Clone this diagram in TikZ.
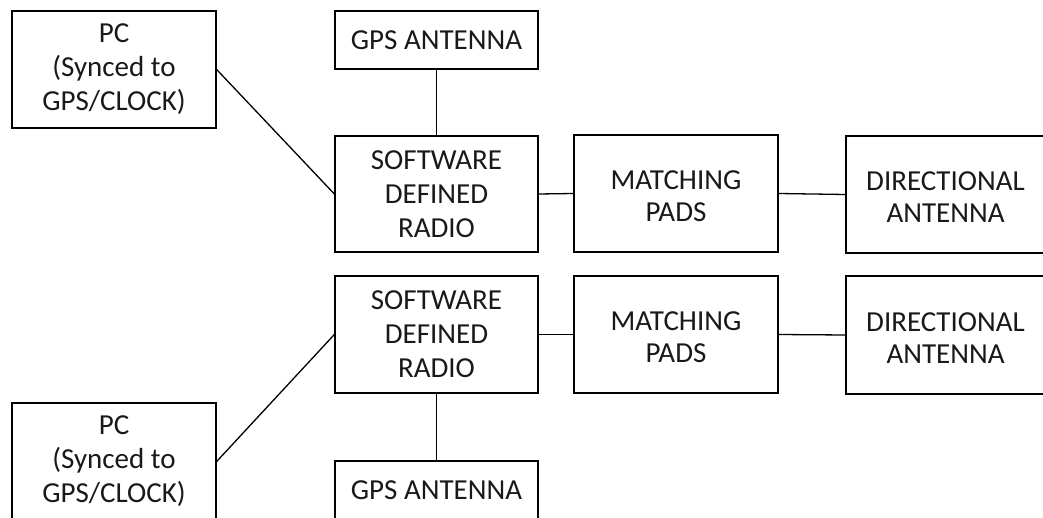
\documentclass[tikz,border=0pt]{standalone}
\usepackage{fontspec}
\setmainfont{Carlito}
\begin{document}
\begin{tikzpicture}[x=1pt,y=-1pt,
  blk/.style={draw=black, line width=1.3pt, inner sep=0pt, align=center,
    font=\fontsize{29}{34}\selectfont, text=black!90},
  txt/.style={inner sep=0pt, align=center, font=\fontsize{29}{32}\selectfont, text=black!90, yshift=-3pt},
  conn/.style={draw=black, line width=1.3pt}]
\useasboundingbox (0,0) rectangle (1043,518);
\clip (0,0) rectangle (1043,518);
% top row
\node[blk, minimum width=204pt, minimum height=117pt] (pc1) at (114,69.5) {PC\\(Synced to\\GPS/CLOCK)};
\node[blk, minimum width=203pt, minimum height=58pt] (gps1) at (436.5,40) {GPS ANTENNA};
\node[blk, minimum width=203pt, minimum height=116pt] (sdr1) at (436.5,194) {SOFTWARE\\DEFINED\\RADIO};
\node[blk, minimum width=204pt, minimum height=117pt, label={[txt]center:{MATCHING\\PADS}}] (mp1) at (676,193.5) {};
\node[blk, minimum width=199pt, minimum height=117pt, label={[txt]center:{DIRECTIONAL\\ANTENNA}}] (da1) at (945.5,194.5) {};
% bottom row
\node[blk, minimum width=203pt, minimum height=117pt] (sdr2) at (436.5,334.5) {SOFTWARE\\DEFINED\\RADIO};
\node[blk, minimum width=204pt, minimum height=117pt, label={[txt]center:{MATCHING\\PADS}}] (mp2) at (676,334.5) {};
\node[blk, minimum width=199pt, minimum height=118pt, label={[txt]center:{DIRECTIONAL\\ANTENNA}}] (da2) at (945.5,335) {};
\node[blk, minimum width=203pt, minimum height=58pt] (gps2) at (436.5,490) {GPS ANTENNA};
\node[blk, minimum width=204pt, minimum height=117pt] (pc2) at (114,461.5) {PC\\(Synced to\\GPS/CLOCK)};
% connectors
\draw[conn] (pc1.east) -- (sdr1.west);
\draw[conn] (gps1.south) -- (sdr1.north);
\draw[conn] (sdr1.east) -- (mp1.west);
\draw[conn] (mp1.east) -- (da1.west);
\draw[conn] (pc2.east) -- (sdr2.west);
\draw[conn] (sdr2.south) -- (gps2.north);
\draw[conn] (sdr2.east) -- (mp2.west);
\draw[conn] (mp2.east) -- (da2.west);
\end{tikzpicture}
\end{document}
